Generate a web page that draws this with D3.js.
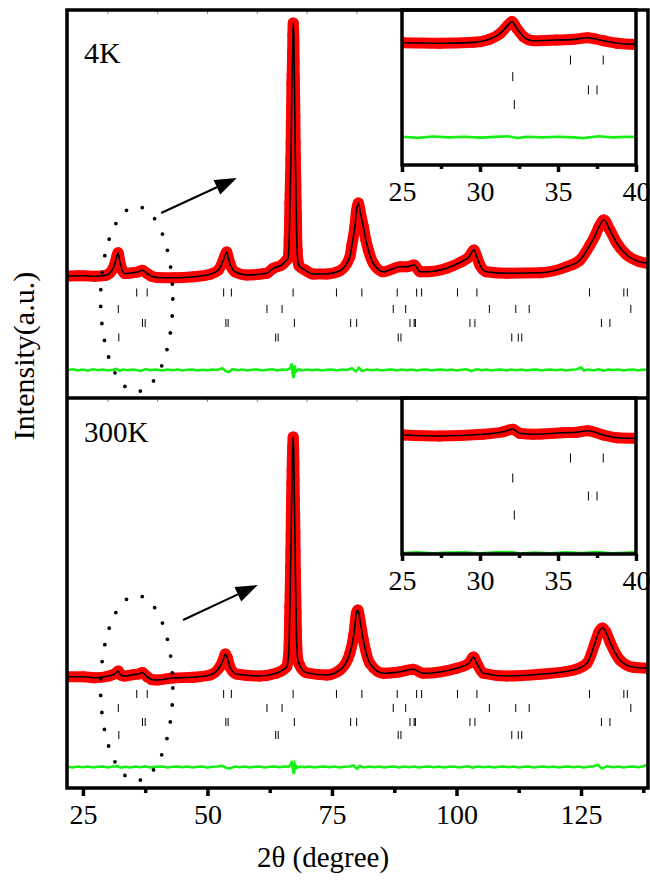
<!DOCTYPE html>
<html>
<head>
<meta charset="utf-8">
<script src="https://cdn.jsdelivr.net/npm/d3@7"></script>
<style>
  body { margin: 0; background: #fff; }
  svg { display: block; }
  text { font-family: "Liberation Serif", "Times New Roman", "DejaVu Serif", serif; fill: #000; }
</style>
</head>
<body>
<svg id="chart" width="650" height="883"></svg>
<script>
// ─── Data (2θ in degrees, intensity in a.u.) ────────────
const obs4K = [
  [21.8,0.0],[24.0,0.1],[25.1,0.1],[27.4,-0.1],[29.6,0.3],[30.6,1.6],[31.3,4.2],[31.8,7.8],
  [32.05,9.3],[32.35,6.4],[32.8,2.7],[33.4,1.0],[34.9,1.3],[36.0,1.6],[36.9,2.3],[37.9,1.0],
  [38.8,-0.1],[40.0,-0.6],[43.2,-0.7],[47.2,-0.3],[50.5,0.7],[52.2,2.4],[53.2,6.4],[53.5,8.0],
  [53.85,9.6],[54.2,7.2],[54.5,5.1],[55.5,1.7],[57.9,0.4],[61.9,1.1],[63.2,3.1],[64.9,4.4],
  [65.9,6.4],[66.2,7.2],[66.4,14.4],[66.5,22.4],[66.55,29.2],[66.6,32.4],[66.65,37.2],[66.7,41.2],
  [66.75,47.2],[66.8,53.2],[66.85,61.2],[66.9,67.6],[66.95,77.2],[67.0,80.4],[67.05,84.4],[67.1,89.2],
  [67.15,96.4],[67.22,101.2],[67.35,94.4],[67.4,85.6],[67.45,79.2],[67.5,71.2],[67.55,63.6],[67.6,53.2],
  [67.65,47.2],[67.7,41.2],[67.75,36.4],[67.8,29.6],[67.85,25.2],[67.9,17.6],[68.0,10.4],[68.2,5.6],
  [68.4,4.0],[69.6,2.4],[71.2,0.8],[73.9,0.8],[76.6,2.1],[78.6,7.7],[79.0,12.4],[79.6,19.7],
  [79.9,25.6],[80.3,29.2],[80.6,26.4],[81.3,19.7],[81.8,14.4],[82.3,10.4],[83.3,5.1],[85.3,1.7],
  [88.7,3.7],[90.0,3.7],[91.5,4.4],[92.7,1.7],[94.0,1.7],[98.0,3.1],[101.0,5.7],[102.5,7.6],
  [103.5,10.4],[104.1,7.6],[104.7,4.4],[106.0,1.7],[110.1,1.1],[116.8,1.3],[122.1,3.7],[124.8,6.4],
  [126.8,12.4],[127.8,16.0],[128.5,19.2],[129.6,22.4],[130.8,18.4],[132.2,13.1],[134.2,8.4],[136.8,5.7],
  [138.4,5.1]
];

const obs300K = [
  [21.8,0.1],[25.1,0.1],[27.4,-0.3],[30.2,0.4],[31.5,1.4],[32.1,2.4],[32.55,0.8],[33.4,0.4],
  [35.3,1.0],[36.2,1.2],[36.9,1.8],[37.9,0.1],[38.8,-1.0],[40.0,-1.2],[43.0,-0.4],[47.1,-0.1],
  [50.5,0.8],[52.5,4.1],[53.2,7.0],[53.6,9.2],[54.0,7.6],[54.5,4.1],[55.8,1.2],[60.5,0.4],
  [63.8,1.5],[65.9,4.1],[66.2,6.8],[66.4,12.8],[66.5,24.1],[66.55,28.1],[66.6,32.1],[66.65,38.1],
  [66.7,44.1],[66.75,50.1],[66.8,56.8],[66.85,64.8],[66.9,72.1],[66.95,77.6],[67.0,82.8],[67.05,87.6],
  [67.12,92.1],[67.2,96.0],[67.3,91.6],[67.35,85.6],[67.4,78.8],[67.45,70.8],[67.5,64.8],[67.55,57.6],
  [67.6,50.1],[67.65,42.1],[67.7,36.1],[67.75,30.8],[67.8,25.6],[67.85,18.8],[67.95,11.6],[68.1,7.6],
  [68.4,5.2],[69.9,1.7],[73.9,0.8],[76.6,2.8],[78.6,9.5],[79.4,17.0],[79.9,25.5],[80.2,26.8],
  [80.6,23.0],[81.3,14.8],[82.6,5.5],[85.3,1.5],[88.7,2.1],[91.3,3.1],[93.3,1.5],[100.0,3.5],
  [102.5,5.5],[103.4,8.0],[104.2,5.0],[105.4,1.5],[110.1,0.4],[116.8,1.1],[123.5,2.8],[126.2,5.5],
  [127.8,13.5],[128.6,18.0],[129.3,19.6],[130.0,18.0],[130.8,14.1],[132.8,6.8],[135.5,3.9],[138.4,3.5]
];

// Iobs - Icalc
const diff4K = [
  [21.8,0.0],[23,0.3],[24,-0.2],[25,0.2],[26,-0.3],[27,0.3],[28,-0.1],[29,0.2],[30,-0.2],[31,0.1],
  [31.8,0.4],[32.4,-0.4],[33,0.2],[34,-0.1],[35,0.2],[36,-0.1],[36.6,-0.4],[37.6,0.4],[38.5,-0.1],[39.5,0.2],
  [41,-0.2],[42,0.2],[43,-0.1],[44,0.2],[45,-0.2],[46,0.1],[47,0.2],[48,-0.2],[49,0.1],[50,-0.1],
  [51,0.2],[52,0.0],[53,0.7],[53.7,-0.5],[54.3,-0.8],[55,0.3],[56,-0.1],[57,0.2],[58,-0.2],[59,0.1],
  [60,0.2],[61,-0.2],[62,0.1],[63,0.3],[64,-0.2],[65,0.2],[66,0.1],[66.6,0.6],[66.9,2.6],[67.1,-1.2],
  [67.3,-3.2],[67.5,1.8],[67.8,-0.6],[68.3,0.3],[69,-0.2],[70,0.2],[71,-0.1],[72,0.2],[73,-0.2],[74,0.1],
  [75,0.2],[76,-0.2],[77,0.2],[78,0.0],[79,0.7],[79.8,-0.6],[80.4,0.9],[81,-0.4],[82,0.2],[83,-0.1],
  [84,0.2],[85,-0.2],[86,0.1],[87,0.2],[88,-0.2],[89,0.2],[90,-0.1],[91,0.2],[92,-0.2],[93,0.1],
  [94,0.2],[95,-0.2],[96,0.1],[97,0.2],[98,-0.1],[99,0.2],[100,-0.2],[101,0.1],[102,0.3],[103,-0.4],
  [104,0.3],[105,-0.1],[106,0.2],[107,-0.2],[108,0.1],[109,0.2],[110,-0.2],[111,0.2],[112,-0.1],[113,0.2],
  [114,-0.2],[115,0.1],[116,0.2],[117,-0.2],[118,0.1],[119,0.2],[120,-0.1],[121,0.2],[122,-0.2],[123,0.1],
  [124,0.2],[125,1.0],[125.6,-0.2],[126.5,0.2],[127.5,-0.2],[128.5,0.3],[129.5,-0.3],[130.5,0.2],[131.5,0.0],[132.5,0.2],
  [133.5,-0.2],[134.5,0.1],[135.5,0.2],[136.5,-0.2],[137.5,0.2],[138.4,0.0]
];

const diff300K = [
  [21.8,0.1],[23,-0.2],[24,0.2],[25,-0.1],[26,0.2],[27,-0.2],[28,0.1],[29,0.2],[30,-0.2],[31,0.2],
  [32,0.3],[32.6,-0.3],[33.5,0.1],[34.5,-0.2],[35.5,0.2],[36.5,-0.1],[37.5,0.3],[38.5,-0.2],[39.5,0.1],[41,0.2],
  [42,-0.2],[43,0.1],[44,0.2],[45,-0.1],[46,0.2],[47,-0.2],[48,0.1],[49,0.2],[50,-0.2],[51,0.1],
  [52,0.2],[53,0.5],[53.8,-0.4],[54.5,-0.6],[55.5,0.2],[56.5,-0.1],[57.5,0.2],[58.5,-0.2],[59.5,0.1],[60.5,0.2],
  [61.5,-0.2],[62.5,0.1],[63.5,0.2],[64.5,-0.1],[65.5,0.2],[66.3,0.1],[66.7,0.8],[66.95,2.4],[67.15,-0.8],[67.35,-2.8],
  [67.55,1.2],[67.9,-0.4],[68.5,0.2],[69.5,-0.1],[70.5,0.2],[71.5,-0.2],[72.5,0.1],[73.5,0.2],[74.5,-0.1],[75.5,0.2],
  [76.5,-0.2],[77.5,0.1],[78.5,0.2],[79.3,0.6],[80.0,-0.7],[80.6,0.5],[81.3,-0.2],[82.5,0.2],[83.5,-0.1],[84.5,0.2],
  [85.5,-0.2],[86.5,0.1],[87.5,0.2],[88.5,-0.2],[89.5,0.2],[90.5,-0.1],[91.5,0.2],[92.5,-0.2],[93.5,0.1],[94.5,0.2],
  [95.5,-0.1],[96.5,0.2],[97.5,-0.2],[98.5,0.1],[99.5,0.2],[100.5,-0.2],[101.5,0.1],[102.5,0.3],[103.3,-0.3],[104.2,0.2],
  [105.5,-0.1],[106.5,0.2],[107.5,-0.2],[108.5,0.1],[109.5,0.2],[110.5,-0.1],[111.5,0.2],[112.5,-0.2],[113.5,0.1],[114.5,0.2],
  [115.5,-0.2],[116.5,0.1],[117.5,0.2],[118.5,-0.1],[119.5,0.2],[120.5,-0.2],[121.5,0.1],[122.5,0.2],[123.5,-0.1],[124.5,0.2],
  [125.5,-0.2],[126.5,0.1],[127.5,0.3],[128.4,0.8],[129.2,-0.6],[130.2,0.3],[131.5,-0.1],[132.5,0.2],[133.5,-0.2],[134.5,0.1],
  [135.5,0.2],[136.5,-0.1],[137.5,0.3],[138.4,1.0]
];

// Bragg reflection positions (2θ), four phases / rows
const braggRow1 = [35.8, 37.9, 53.25, 54.8, 67.2, 75.9, 81.0, 88.1, 92.0, 93.0, 100.2, 104.1, 126.7, 133.6, 134.3];
const braggRow2 = [32.1, 61.95, 64.98, 87.3, 89.8, 106.6, 111.9, 114.6, 135.0];
const braggRow3 = [36.95, 37.5, 53.7, 54.15, 67.45, 78.75, 79.95, 90.66, 91.5, 91.75, 102.7, 103.7, 129.1, 130.8];
const braggRow4 = [32.2, 63.7, 64.2, 88.3, 88.85, 111.1, 112.4, 113.1];
const braggRows = [braggRow1, braggRow2, braggRow3, braggRow4];

const xTicksMain = [25, 50, 75, 100, 125];
const xMinorMain = [37.5, 62.5, 87.5, 112.5, 137.5];
const xTopTicks = [30, 40, 50, 60, 70, 80, 90, 100, 110, 120, 130];
const xTicksInset = [25, 30, 35, 40];
const xMinorInset = [27.5, 32.5, 37.5];

// ─── Layout ──────────────────────────────────────────────
const svg = d3.select('#chart');
const L = 67, R = 648, T = 10, MID = 398, B = 788;
const RED = '#ff0000', GREEN = '#14f014';
const SERIF = '"Liberation Serif", "Times New Roman", "DejaVu Serif", serif';

const x = d3.scaleLinear().domain([21.8, 138.45]).range([L, R]);

const panels = [
  { name: '4K', obs: obs4K, diff: diff4K, top: T, bottom: MID, yDomain: [-48.8, 106.4],
    rowOffsets: [-6.6, -13.2, -18.8, -24.6], diffOffset: -37.6, labelY: 63, labelSize: 30,
    ellipse: { cx: 35.8, cy: -9.2, rx: 7.25, ry: 37 }, arrow: [[40.7, 25.2], [55.9, 39.2]],
    inset: { top: T, bottom: 165, yDomain: [-53.0, 14.35], rowOffsets: [-7.4, -14.6, -20.4, -26.7], diffOffset: -40.9 } },
  { name: '300K', obs: obs300K, diff: diff300K, top: MID, bottom: B, yDomain: [-44.4, 111.6],
    rowOffsets: [-6.8, -12.4, -18.0, -23.2], diffOffset: -36.0, labelY: 442, labelSize: 29,
    ellipse: { cx: 35.8, cy: -4.4, rx: 7.25, ry: 37 }, arrow: [[45.1, 22.8], [60.1, 36.8]],
    inset: { top: MID, bottom: 554, yDomain: [-47.5, 14.9], rowOffsets: [-9.1, -17.1, -24.3, -31.9], diffOffset: -47.0 } },
];

const defs = svg.append('defs');

function drawSeries(g, xs, ys, obs, diff, rowOffsets, diffOffset, tickHalf, xMin, xMax) {
  const line = d3.line().x(d => xs(d[0])).y(d => ys(d[1])).curve(d3.curveMonotoneX);
  const pts = obs.filter(d => d[0] >= xMin && d[0] <= xMax);

  // difference curve
  g.append('path')
    .datum(diff.filter(d => d[0] >= xMin && d[0] <= xMax))
    .attr('fill', 'none').attr('stroke', GREEN).attr('stroke-width', 2.6)
    .attr('d', d3.line().x(d => xs(d[0])).y(d => ys(d[1] + diffOffset)));

  // Bragg ticks
  braggRows.forEach((row, i) => {
    g.append('g').selectAll('line')
      .data(row.filter(t => t >= xMin && t <= xMax)).join('line')
      .attr('x1', d => xs(d)).attr('x2', d => xs(d))
      .attr('y1', ys(rowOffsets[i]) - tickHalf).attr('y2', ys(rowOffsets[i]) + tickHalf)
      .attr('stroke', '#000').attr('stroke-width', 1);
  });

  // observed: thick red band + circles
  g.append('path').datum(pts)
    .attr('fill', 'none').attr('stroke', RED).attr('stroke-width', 11)
    .attr('stroke-linejoin', 'round').attr('stroke-linecap', 'round')
    .attr('d', line);
  g.append('g').selectAll('circle').data(pts).join('circle')
    .attr('cx', d => xs(d[0])).attr('cy', d => ys(d[1])).attr('r', 5.5)
    .attr('fill', RED);

  // calculated
  g.append('path').datum(pts)
    .attr('fill', 'none').attr('stroke', '#000').attr('stroke-width', 1.6)
    .attr('d', line);
}

panels.forEach((p, idx) => {
  const y = d3.scaleLinear().domain(p.yDomain).range([p.bottom, p.top]);

  defs.append('clipPath').attr('id', `clip-${idx}`)
    .append('rect').attr('x', L).attr('y', p.top).attr('width', R - L).attr('height', p.bottom - p.top);

  const g = svg.append('g').attr('clip-path', `url(#clip-${idx})`);
  drawSeries(g, x, y, p.obs, p.diff, p.rowOffsets, p.diffOffset, 4, 21, 139);

  // dotted ellipse + arrow
  const e = p.ellipse;
  g.append('ellipse')
    .attr('cx', x(e.cx)).attr('cy', y(e.cy))
    .attr('rx', x(e.cx + e.rx) - x(e.cx)).attr('ry', y(e.cy - e.ry) - y(e.cy))
    .attr('fill', 'none').attr('stroke', '#000').attr('stroke-width', 3.8)
    .attr('stroke-linecap', 'round').attr('stroke-dasharray', '0 17');

  const [a0, a1] = p.arrow;
  const x0 = x(a0[0]), y0 = y(a0[1]), x1 = x(a1[0]), y1 = y(a1[1]);
  const ang = Math.atan2(y1 - y0, x1 - x0);
  const headL = 22, headW = 8;
  const bx = x1 - headL * Math.cos(ang), by = y1 - headL * Math.sin(ang);
  g.append('line').attr('x1', x0).attr('y1', y0).attr('x2', bx).attr('y2', by)
    .attr('stroke', '#000').attr('stroke-width', 2);
  g.append('path')
    .attr('d', `M${x1},${y1} L${bx + headW * Math.sin(ang)},${by - headW * Math.cos(ang)} L${bx - headW * Math.sin(ang)},${by + headW * Math.cos(ang)} Z`)
    .attr('fill', '#000');

  // panel label
  svg.append('text').attr('x', 84).attr('y', p.labelY)
    .attr('font-size', p.labelSize).text(p.name);

  // faint ticks on the top edge
  svg.append('g').selectAll('line').data(xTopTicks).join('line')
    .attr('x1', d => x(d)).attr('x2', d => x(d))
    .attr('y1', p.top + 1).attr('y2', p.top + 4)
    .attr('stroke', '#888').attr('stroke-width', 1);

  // inset
  const ins = p.inset;
  const xi = d3.scaleLinear().domain([25, 40]).range([402, 636]);
  const yi = d3.scaleLinear().domain(ins.yDomain).range([ins.bottom, ins.top]);
  svg.append('rect').attr('x', 402).attr('y', ins.top).attr('width', 234).attr('height', ins.bottom - ins.top)
    .attr('fill', '#fff');
  defs.append('clipPath').attr('id', `clip-in-${idx}`)
    .append('rect').attr('x', 402).attr('y', ins.top).attr('width', 234).attr('height', ins.bottom - ins.top);
  const gi = svg.append('g').attr('clip-path', `url(#clip-in-${idx})`);
  drawSeries(gi, xi, yi, p.obs, p.diff, ins.rowOffsets, ins.diffOffset, 4.5, 24, 41);
  svg.append('rect').attr('x', 402).attr('y', ins.top).attr('width', 234).attr('height', ins.bottom - ins.top)
    .attr('fill', 'none').attr('stroke', '#000').attr('stroke-width', 3.5);

  const axI = svg.append('g').attr('transform', `translate(0,${ins.bottom})`)
    .call(d3.axisBottom(xi).tickValues(xTicksInset).tickSize(7).tickPadding(9).tickFormat(d3.format('d')));
  axI.select('.domain').remove();
  axI.selectAll('line').attr('stroke-width', 3.5);
  axI.selectAll('text').attr('font-size', 28).style('font-family', SERIF);
  const axIm = svg.append('g').attr('transform', `translate(0,${ins.bottom})`)
    .call(d3.axisBottom(xi).tickValues(xMinorInset).tickSize(4).tickFormat(''));
  axIm.select('.domain').remove();
  axIm.selectAll('line').attr('stroke-width', 3.5);
});

// ─── Main frame and x axis ───────────────────────────────
svg.append('rect').attr('x', L).attr('y', T).attr('width', R - L).attr('height', B - T)
  .attr('fill', 'none').attr('stroke', '#000').attr('stroke-width', 3.5);
svg.append('line').attr('x1', L).attr('x2', R).attr('y1', MID).attr('y2', MID)
  .attr('stroke', '#000').attr('stroke-width', 3.5);

const ax = svg.append('g').attr('transform', `translate(0,${B})`)
  .call(d3.axisBottom(x).tickValues(xTicksMain).tickSize(8).tickPadding(8).tickFormat(d3.format('d')));
ax.select('.domain').remove();
ax.selectAll('line').attr('stroke-width', 3.5);
ax.selectAll('text').attr('font-size', 28).style('font-family', SERIF);
const axm = svg.append('g').attr('transform', `translate(0,${B})`)
  .call(d3.axisBottom(x).tickValues(xMinorMain).tickSize(5).tickFormat(''));
axm.select('.domain').remove();
axm.selectAll('line').attr('stroke-width', 3.5);

// axis titles
svg.append('text').attr('x', 323).attr('y', 867).attr('text-anchor', 'middle')
  .attr('font-size', 29).text('2θ (degree)');
svg.append('text').attr('transform', 'translate(34,356) rotate(-90)').attr('text-anchor', 'middle')
  .attr('font-size', 30).text('Intensity(a.u.)');
</script>
</body>
</html>
